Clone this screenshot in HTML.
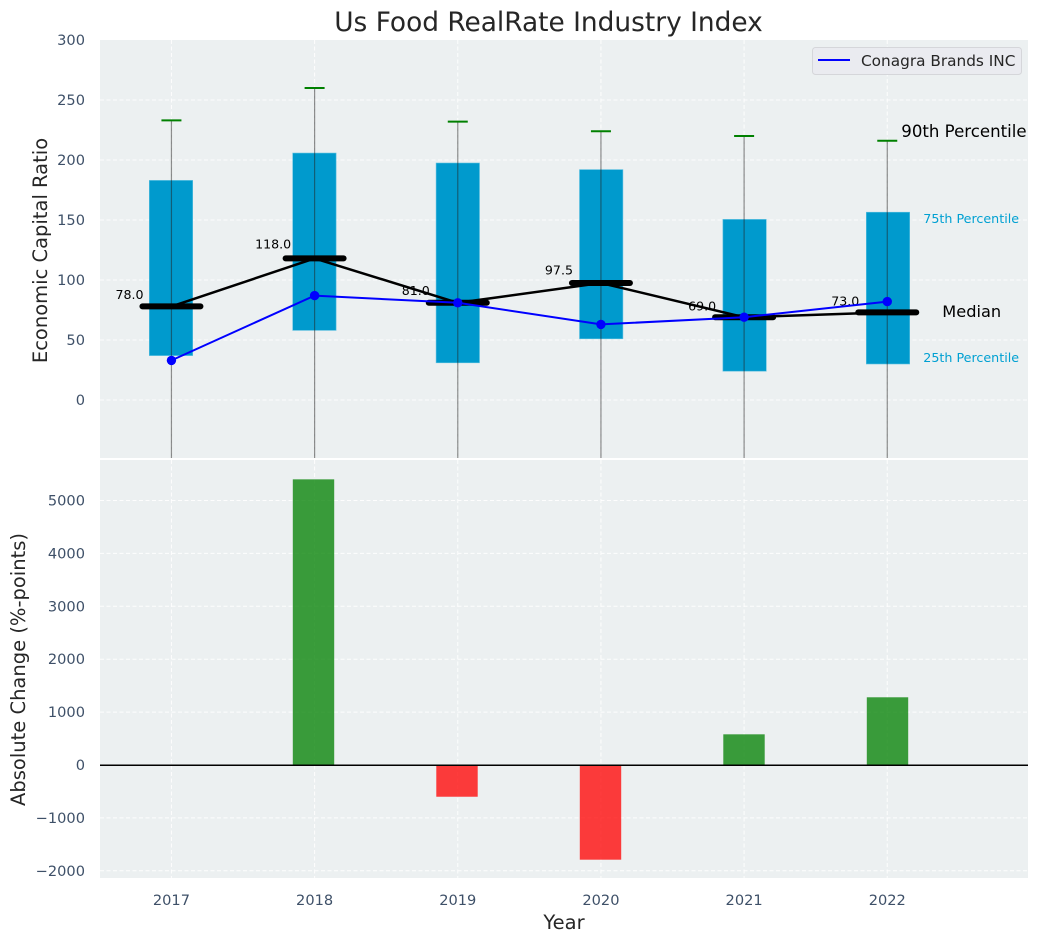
<!DOCTYPE html>
<html>
<head>
<meta charset="utf-8">
<title>Us Food RealRate Industry Index</title>
<style>
html,body{margin:0;padding:0;background:#fff;}
svg{display:block;font-family:"DejaVu Sans","Liberation Sans",sans-serif;}
</style>
</head>
<body>
<svg id="chart" width="1039" height="942" viewBox="0 0 1039 942" xmlns="http://www.w3.org/2000/svg"></svg>
<script>
const years = [2017, 2018, 2019, 2020, 2021, 2022];
const p90 = [233, 260, 232, 224, 220, 216];
const p75 = [183, 205.8, 197.5, 192, 150.5, 156.5];
const median = [78, 118, 81, 97.5, 69, 73];
const p25 = [37, 58, 31, 51, 24, 30];
const p10 = [-120, -120, -120, -120, -120, -120];
const conagra = [33, 87, 81, 63, 69, 82];
const absChange = [null, 5400, -600, -1790, 580, 1280];
const topTicks = [0, 50, 100, 150, 200, 250, 300];
const bottomTicks = [-2000, -1000, 0, 1000, 2000, 3000, 4000, 5000];

const NS = 'http://www.w3.org/2000/svg';
const root = document.getElementById('chart');
const TOP = {l: 100, r: 1028, t: 40, b: 458};
const BOT = {l: 100, r: 1028, t: 460, b: 878};
const X0 = 2016.501, X1 = 2022.983;

function xS(v) { return TOP.l + (v - X0) / (X1 - X0) * (TOP.r - TOP.l); }
function xBox(v) { return 171 + (v - 2017) * 143.4; }
function xBar(v) { return 170 + (v - 2017) * 143.5; }
function yT(v) { return 400 - v * 1.2; }
function yB(v) { return 765 - v * 0.0529; }
function clipTop(y) { return Math.min(y, TOP.b); }

function mk(tag, attrs, text) {
  const el = document.createElementNS(NS, tag);
  for (const k in attrs) el.setAttribute(k, attrs[k]);
  if (text !== undefined) el.textContent = text;
  root.appendChild(el);
  return el;
}
function fmtTick(v) { return v < 0 ? '\u2212' + Math.abs(v) : String(v); }

let el;
el = mk('rect', {x: TOP.l, y: TOP.t, width: TOP.r - TOP.l, height: TOP.b - TOP.t, fill: '#ecf0f1'});


el = mk('rect', {x: BOT.l, y: BOT.t, width: BOT.r - BOT.l, height: BOT.b - BOT.t, fill: '#ecf0f1'});



// Grid lines and y ticks
topTicks.forEach(function (t) {
  if (t !== 300) {
    const g = mk('line', {x1: TOP.l, x2: TOP.r, y1: yT(t), y2: yT(t), stroke: '#fff', 'stroke-width': 1, 'stroke-dasharray': '4 2.5', opacity: 0.9});
    
    
  }
  const l = mk('text', {x: 85, y: yT(t) + 5, 'text-anchor': 'end', 'font-size': 14.6, fill: '#3e5068'}, fmtTick(t));
  
  
});
bottomTicks.forEach(function (t) {
  const g = mk('line', {x1: BOT.l, x2: BOT.r, y1: yB(t), y2: yB(t), stroke: '#fff', 'stroke-width': 1, 'stroke-dasharray': '4 2.5', opacity: 0.9});
  
  
  const l = mk('text', {x: 85, y: yB(t) + 5, 'text-anchor': 'end', 'font-size': 14.6, fill: '#3e5068'}, fmtTick(t));
  
  
});
years.forEach(function (yr) {
  const g1 = mk('line', {x1: xS(yr), x2: xS(yr), y1: TOP.t, y2: TOP.b, stroke: '#fff', 'stroke-width': 1, 'stroke-dasharray': '4 2.5', opacity: 0.9});
  
  
  const g2 = mk('line', {x1: xS(yr), x2: xS(yr), y1: BOT.t, y2: BOT.b, stroke: '#fff', 'stroke-width': 1, 'stroke-dasharray': '4 2.5', opacity: 0.9});
  
  
  const l = mk('text', {x: xS(yr), y: 905, 'text-anchor': 'middle', 'font-size': 14.6, fill: '#3e5068'}, String(yr));
  
  
});

// Percentile boxes
years.forEach(function (yr, i) {
  const b = mk('rect', {x: xBox(yr) - 21.7, y: yT(p75[i]), width: 43.4, height: yT(p25[i]) - yT(p75[i]), fill: '#009acd', stroke: '#5cc0e0', 'stroke-width': 0.6});
  
  
});

// Whiskers and caps
years.forEach(function (yr, i) {
  const w = mk('line', {x1: xS(yr), x2: xS(yr), y1: yT(p90[i]), y2: clipTop(yT(p10[i])), stroke: '#222', 'stroke-width': 1.2, opacity: 0.5});
  
  
  const c = mk('line', {x1: xS(yr) - 10, x2: xS(yr) + 10, y1: yT(p90[i]), y2: yT(p90[i]), stroke: '#008000', 'stroke-width': 2});
  
  
});

// Median value labels
years.forEach(function (yr, i) {
  const label = median[i].toFixed(1);
  const t = mk('text', {x: xS(yr) - (label.length > 4 ? 59.5 : 56), y: yT(median[i]) - (7 + 0.06 * median[i]) + 4.3, 'font-size': 12.6, fill: '#000'}, label);
  
  
});

// Median line
const medianLine = mk('polyline', {points: years.map(function (yr, i) { return xS(yr) + ',' + yT(median[i]); }).join(' '), fill: 'none', stroke: '#000', 'stroke-width': 2.5});



// Median caps
years.forEach(function (yr, i) {
  const c = mk('line', {x1: xS(yr) - 29, x2: xS(yr) + 29, y1: yT(median[i]), y2: yT(median[i]), stroke: '#000', 'stroke-width': 6, 'stroke-linecap': 'round'});
  
  
});

// Company line
const companyLine = mk('polyline', {points: years.map(function (yr, i) { return xS(yr) + ',' + yT(conagra[i]); }).join(' '), fill: 'none', stroke: '#0000ff', 'stroke-width': 2});


years.forEach(function (yr, i) {
  const m = mk('circle', {cx: xS(yr), cy: yT(conagra[i]), r: 4.7, fill: '#0000ff'});
  
  
});

// Annotations for the last year
const lastX = xS(years[years.length - 1]);
const lastI = years.length - 1;
el = mk('text', {x: lastX + 14, y: yT(p90[lastI]) - 4, 'font-size': 16.6, fill: '#000'}, '90th Percentile');


el = mk('text', {x: lastX + 36, y: yT(p75[lastI]) + 11, 'font-size': 12.7, fill: '#00a0d2'}, '75th Percentile');


el = mk('text', {x: lastX + 55, y: yT(median[lastI]) + 4.5, 'font-size': 16.2, fill: '#000'}, 'Median');


el = mk('text', {x: lastX + 36, y: yT(p25[lastI]) - 2, 'font-size': 12.7, fill: '#00a0d2'}, '25th Percentile');



// Legend
el = mk('rect', {x: 812.5, y: 47.5, width: 209, height: 27, rx: 3, fill: '#eaebf0', stroke: '#d5d6da', 'stroke-width': 1});


el = mk('line', {x1: 818, x2: 850, y1: 60, y2: 60, stroke: '#0000ff', 'stroke-width': 2});


el = mk('text', {x: 861, y: 66, 'font-size': 15.3, fill: '#262626'}, 'Conagra Brands INC');



// Bars
years.forEach(function (yr, i) {
  const v = absChange[i];
  if (v === null) return;
  const top = Math.min(yB(v), yB(0));
  const b = mk('rect', {x: xBar(yr) - 20.7, y: top, width: 41.4, height: Math.abs(yB(v) - yB(0)), fill: v >= 0 ? '#008000' : '#ff0000', opacity: 0.76});
  
  
});
el = mk('line', {x1: BOT.l, x2: BOT.r, y1: yB(0) + 0.3, y2: yB(0) + 0.3, stroke: '#000', 'stroke-width': 1.5});



// Titles
el = mk('text', {x: 548.5, y: 31, 'text-anchor': 'middle', 'font-size': 26.4, fill: '#262626'}, 'Us Food RealRate Industry Index');


el = mk('text', {x: 564, y: 929, 'text-anchor': 'middle', 'font-size': 19.5, fill: '#262626'}, 'Year');


el = mk('text', {x: 0, y: 0, transform: 'translate(47 250.5) rotate(-90)', 'text-anchor': 'middle', 'font-size': 19.5, fill: '#262626'}, 'Economic Capital Ratio');


el = mk('text', {x: 0, y: 0, transform: 'translate(25 669.5) rotate(-90)', 'text-anchor': 'middle', 'font-size': 19.5, fill: '#262626'}, 'Absolute Change (%-points)');


</script>
</body>
</html>
